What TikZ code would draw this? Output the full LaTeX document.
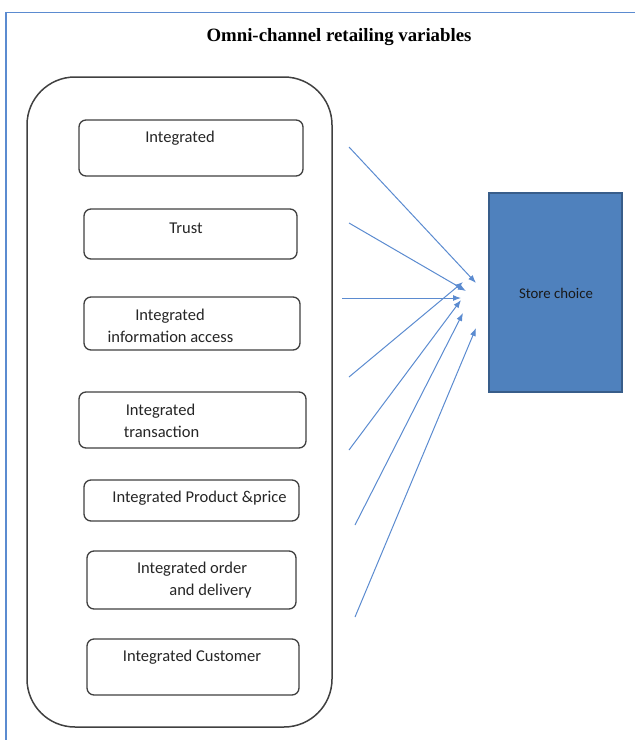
\documentclass[tikz,border=0pt]{standalone}
\usepackage{fontspec}
\setmainfont{Carlito}
\newfontfamily\titlefont{Liberation Serif}
\usetikzlibrary{arrows.meta}
\definecolor{frameblue}{HTML}{5B8BD0}
\definecolor{arrowblue}{HTML}{5B8BD0}
\definecolor{storefill}{HTML}{4F81BD}
\definecolor{storeedge}{HTML}{385D8A}
\definecolor{boxedge}{HTML}{404040}
\tikzset{
  varbox/.style={draw=boxedge, line width=1.3pt, rounded corners=7pt, inner sep=0pt, outer sep=0pt, fill=white},
  outerbox/.style={draw=boxedge, line width=1.5pt, rounded corners=48pt, inner sep=0pt, outer sep=0pt},
  storebox/.style={draw=storeedge, fill=storefill, line width=1.5pt, inner sep=0pt, outer sep=0pt},
  vartext/.style={font=\fontsize{16.5}{19}\selectfont, text=black!85, inner sep=0pt, align=left},
  link/.style={draw=arrowblue, line width=1pt, -{Latex[length=8pt,width=6pt]}}
}
\begin{document}
\begin{tikzpicture}[x=1pt,y=-1pt]
\useasboundingbox (0,0) rectangle (635,740);
% frame
\coordinate (fa) at (6,760);
\coordinate (fb) at (6,12.5);
\coordinate (fc) at (640,12.5);
\draw[frameblue, line width=1.2pt] (fa) -- (fb) -- (fc);
% title
\node[font=\titlefont\bfseries\fontsize{18.8}{22}\selectfont, inner sep=0pt] (title) at (339,37) {Omni-channel retailing variables};
% outer container
\node[outerbox, minimum width=305pt, minimum height=650pt] (outer) at (179.5,402) {};
% variable boxes
\node[varbox, minimum width=224pt, minimum height=56pt] (b1) at (191,148) {};
\node[varbox, minimum width=213pt, minimum height=50pt] (b2) at (190.5,234) {};
\node[varbox, minimum width=216pt, minimum height=53pt] (b3) at (192,323.5) {};
\node[varbox, minimum width=227pt, minimum height=56pt] (b4) at (192.5,420) {};
\node[varbox, minimum width=215pt, minimum height=41pt] (b5) at (191.5,500.5) {};
\node[varbox, minimum width=209pt, minimum height=58pt] (b6) at (191.5,580) {};
\node[varbox, minimum width=212pt, minimum height=56pt] (b7) at (193,667) {};
% texts
\node[vartext] (t1) at (180,138) {Integrated};
\node[vartext] (t2) at (186,228) {Trust};
\node[vartext] (t3a) at (170,316) {Integrated};
\node[vartext] (t3b) at (170.5,337) {information access};
\node[vartext] (t4a) at (160.5,411) {Integrated};
\node[vartext] (t4b) at (161.5,432) {transaction};
\node[vartext] (t5) at (199.5,498) {Integrated Product \&price};
\node[vartext] (t6a) at (192,569) {Integrated order};
\node[vartext] (t6b) at (210.5,591) {and delivery};
\node[vartext] (t7) at (192,657) {Integrated Customer};
% store choice
\node[storebox, minimum width=133pt, minimum height=199pt] (store) at (555.5,292.5) {};
\node[vartext, font=\fontsize{14.8}{17}\selectfont, text=black!90] (st) at (556,293) {Store choice};
% arrows
\coordinate (s1) at (349,147); \coordinate (e1) at (476,283);
\coordinate (s2) at (349,223); \coordinate (e2) at (466,291);
\coordinate (s3) at (342,298); \coordinate (e3) at (461,298);
\coordinate (s4) at (349,377); \coordinate (e4) at (463,282);
\coordinate (s5) at (349,450); \coordinate (e5) at (461,300);
\coordinate (s6) at (355,525); \coordinate (e6) at (463,313);
\coordinate (s7) at (355,617); \coordinate (e7) at (476,328);
\foreach \i in {1,...,7} {\draw[link] (s\i) -- (e\i);}
\end{tikzpicture}
\end{document}
